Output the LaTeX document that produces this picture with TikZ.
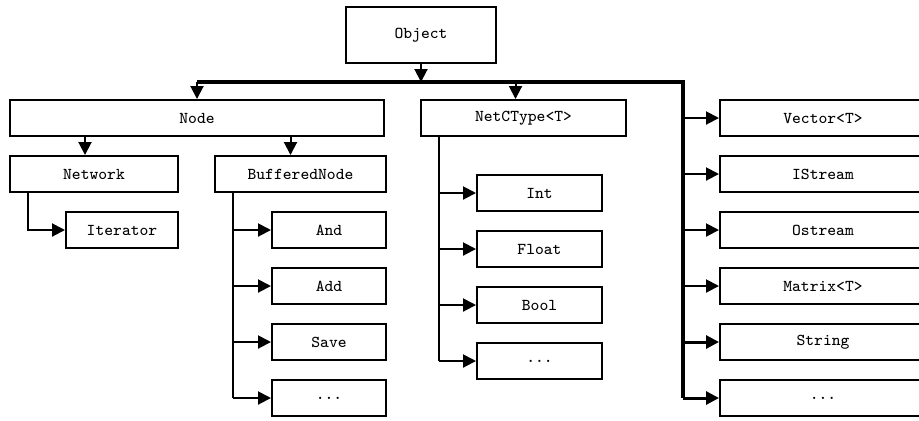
\documentclass[tikz,border=0pt]{standalone}
\usetikzlibrary{arrows.meta, positioning}

\begin{document}
\begin{tikzpicture}[
        > = {Triangle[length=6.5pt, width=6.5pt]}, % arrow head style
        x = 0.5pt, y = -0.5pt, % one unit = one pixel of the sketch
        node distance = 28pt, % distance between stacked boxes
        line width = 1pt % line style
    ]

    \tikzstyle{every node}=[draw = black, rectangle, line width = 1pt,
    minimum height = 18pt, inner sep = 1pt,
    font = \ttfamily\fontsize{8.3}{10}\selectfont]
    \tikzstyle{leaf}=[minimum width = 57pt]
    \tikzstyle{ctype}=[minimum width = 62.5pt]
    \tikzstyle{util}=[minimum width = 103pt]
    \tikzstyle{bus}=[line width = 2pt]

    \useasboundingbox (0,0) rectangle (919,420);

    % top of the tree
    \node (Object) [minimum width = 75pt, minimum height = 28pt] at (421,35) {Object};
    \node (Node) [minimum width = 187pt] at (197,118) {Node};
    \node (NetCType) [minimum width = 102.5pt] at (523.5,118) {NetCType<T>};

    % below Node
    \node (Network) [minimum width = 84pt] at (94,174) {Network};
    \node (BufferedNode) [minimum width = 85.5pt] at (300.5,174) {BufferedNode};
    \node (Iterator) [minimum width = 56pt] at (122,230) {Iterator};
    \node (And) [leaf] at (329,230) {And}; \node (Add) [leaf, below of=And] {Add};
    \node (Save) [leaf, below of=Add] {Save}; \node (bdots) [leaf, below of=Save] {...};

    % below NetCType
    \node (Int) [ctype] at (539.5,193) {Int}; \node (Float) [ctype, below of=Int] {Float};
    \node (Bool) [ctype, below of=Float] {Bool}; \node (tdots) [ctype, below of=Bool] {...};

    % right column
    \node (Vector) [util] at (823,118) {Vector<T>}; \node (IStream) [util, below of=Vector] {IStream};
    \node (Ostream) [util, below of=IStream] {Ostream}; \node (Matrix) [util, below of=Ostream] {Matrix<T>};
    \node (String) [util, below of=Matrix] {String}; \node (rdots) [util, below of=String] {...};

    % main bus
    \coordinate (busL) at (197,82); \coordinate (busR) at (683,82);
    \draw[bus] (busL) -- (busR) -- (busR |- rdots);
    \draw[->] (Object) -- (Object |- busL);
    \draw[->] (busL) -- (Node);
    \draw[->] ([xshift=-4pt]NetCType.north |- busL) -- ([xshift=-4pt]NetCType.north);

    \draw[->] ([xshift=-4.5pt]Network.north |- Node.south) -- ([xshift=-4.5pt]Network.north);
    \draw[->] ([xshift=-5pt]BufferedNode.north |- Node.south) -- ([xshift=-5pt]BufferedNode.north);
    \draw[->] ([xshift=9.5pt]Network.south west) |- (Iterator);

    % trunks
    \coordinate (bt) at ([xshift=9.5pt]BufferedNode.south west);
    \coordinate (nt) at ([xshift=9.5pt]NetCType.south west);
    \draw (bt) -- (bt |- bdots); \draw (nt) -- (nt |- tdots);

    \path[->] (bt |- And) edge (And); \path[->] (bt |- Add) edge (Add);
    \path[->] (bt |- Save) edge (Save); \path[->] (bt |- bdots) edge (bdots);

    \path[->] (nt |- Int) edge (Int); \path[->] (nt |- Float) edge (Float);
    \path[->] (nt |- Bool) edge (Bool); \path[->] (nt |- tdots) edge (tdots);

    \path[->] (busR |- Vector) edge (Vector); \path[->] (busR |- IStream) edge (IStream);
    \path[->] (busR |- Ostream) edge (Ostream); \path[->] (busR |- Matrix) edge (Matrix);
    \path[->, line width = 1.5pt] (busR |- String) edge (String);
    \path[->, line width = 1.5pt] (busR |- rdots) edge (rdots);

\end{tikzpicture}
\end{document}
